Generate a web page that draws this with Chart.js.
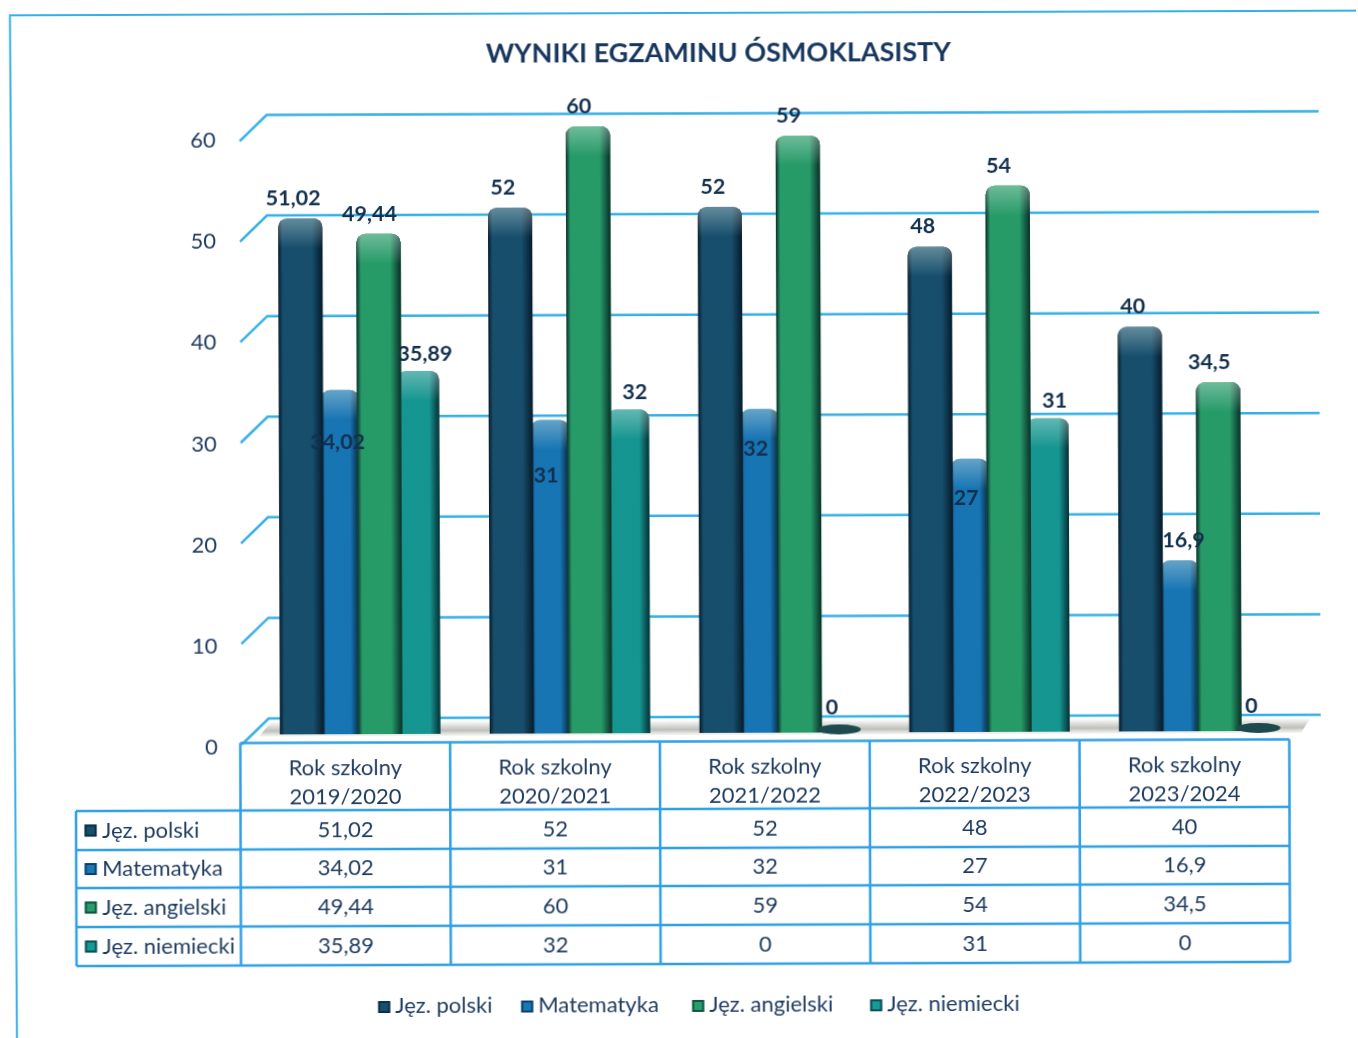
<!DOCTYPE html>
<html>
<head>
<meta charset="utf-8">
<title>Wyniki egzaminu ósmoklasisty</title>
<script src="https://cdn.jsdelivr.net/npm/chart.js@4"></script>
<style>
    html, body { margin: 0; background: #fff; overflow: hidden; }
    #chart { display: block; transform: rotate(-0.2deg); }
</style>
</head>
<body>
<canvas id="chart" width="1358" height="1038"></canvas>
<script>
const years = [['Rok szkolny', '2019/2020'], ['Rok szkolny', '2020/2021'], ['Rok szkolny', '2021/2022'], ['Rok szkolny', '2022/2023'], ['Rok szkolny', '2023/2024']]
const polski = [51.02, 52, 52, 48, 40]
const matematyka = [34.02, 31, 32, 27, 16.9]
const angielski = [49.44, 60, 59, 54, 34.5]
const niemiecki = [35.89, 32, 0, 31, 0]

const LINE = '#35b0e6'
const TEXT = '#1d3a5f'
const FONT = 'Lato'

// label nudges for each series, the blue one is placed by hand like in the original
const labelDx = [-7, -3, -9, 7]
const labelDy = [-20, -20, -20, -17]
const blueNudge = [[-2.5, 52], [-4, 56], [-4, 40], [-3.5, 39], [4, -20]]

function fmt(v) {
    return String(v).replace('.', ',')
}

function swatch(ctx, x, y, color) {
    ctx.fillStyle = color
    ctx.fillRect(x, y, 12, 12)
    ctx.strokeStyle = 'rgba(0,20,40,.55)'
    ctx.lineWidth = 2
    ctx.strokeRect(x + 1, y + 1, 10, 10)
}

function shadeBar(ctx, b) {
    if (b.base - b.y < 1) return
    let left = b.x - b.width / 2
    let side = ctx.createLinearGradient(left, 0, left + b.width, 0)
    side.addColorStop(0, 'rgba(0,10,20,.75)')
    side.addColorStop(0.1, 'rgba(0,10,20,.03)')
    side.addColorStop(0.76, 'rgba(0,10,20,.03)')
    side.addColorStop(1, 'rgba(0,10,20,.75)')
    let cap = ctx.createLinearGradient(0, b.y, 0, b.y + 30)
    cap.addColorStop(0, 'rgba(225,240,235,.38)')
    cap.addColorStop(1, 'rgba(225,240,235,0)')
    ctx.beginPath()
    ctx.roundRect(left, b.y, b.width, b.base - b.y, [9, 9, 0, 0])
    ctx.fillStyle = side
    ctx.fill()
    ctx.fillStyle = cap
    ctx.fill()
}

const chartExtras = {
    id: 'chartExtras',
    beforeDatasetsDraw(chart) {
        let ctx = chart.ctx
        let y = chart.scales.y
        let area = chart.chartArea
        ctx.save()

        // page frame
        ctx.strokeStyle = LINE
        ctx.lineWidth = 2
        ctx.beginPath()
        ctx.moveTo(1362, 13)
        ctx.lineTo(11.7, 13)
        ctx.lineTo(15.2, 1042)
        ctx.stroke()

        // back wall lines and the diagonals going to the front
        ctx.lineWidth = 2.5
        for (let v = 0; v <= 60; v += 10) {
            let back = y.getPixelForValue(v) - 16 + v * 0.058
            ctx.beginPath()
            ctx.moveTo(area.left - 14, back + 26)
            ctx.lineTo(area.left + 13, back)
            ctx.lineTo(area.right + 16, back)
            ctx.stroke()
        }

        // floor shadow
        let floor = ctx.createLinearGradient(0, area.bottom - 13, 0, area.bottom + 2)
        floor.addColorStop(0, 'rgba(110,110,100,0)')
        floor.addColorStop(0.65, 'rgba(110,110,100,.45)')
        floor.addColorStop(1, 'rgba(150,150,130,.1)')
        ctx.fillStyle = floor
        ctx.beginPath()
        ctx.moveTo(area.left + 3, area.bottom + 2)
        ctx.lineTo(area.left + 16, area.bottom - 13)
        ctx.lineTo(area.right + 6, area.bottom - 13)
        ctx.lineTo(area.right - 4, area.bottom + 2)
        ctx.closePath()
        ctx.fill()
        ctx.restore()
    },
    afterDatasetDraw(chart, args) {
        let ctx = chart.ctx
        args.meta.data.forEach(b => shadeBar(ctx, b))
    },
    afterDatasetsDraw(chart) {
        let ctx = chart.ctx
        // green bar sits in front of blue and teal
        chart.getDatasetMeta(2).data.forEach(b => {
            b.draw(ctx)
            shadeBar(ctx, b)
        })

        ctx.save()
        chart.data.datasets.forEach((ds, i) => {
            chart.getDatasetMeta(i).data.forEach((b, j) => {
                let v = ds.data[j]
                if (v === 0) {
                    ctx.fillStyle = '#1d4a4e'
                    ctx.beginPath()
                    ctx.ellipse(b.x, b.base - 3, 22, 5, 0, 0, Math.PI * 2)
                    ctx.fill()
                }
                let dx = labelDx[i], dy = labelDy[i]
                if (i == 1) {
                    dx = blueNudge[j][0]
                    dy = blueNudge[j][1]
                }
                if (v === 0) {
                    dx = -7
                    dy = -25
                }
                ctx.font = 'bold 21.5px ' + FONT
                ctx.fillStyle = '#13304f'
                ctx.textAlign = 'center'
                ctx.textBaseline = 'middle'
                ctx.fillText(fmt(v), b.x + dx, b.y + dy)
            })
        })
        ctx.restore()
    },
    afterDraw(chart) {
        let ctx = chart.ctx
        let area = chart.chartArea
        let ds = chart.data.datasets
        let step = area.width / years.length
        let left = area.left - 15.5
        let right = left + step * years.length
        let top = area.bottom + 8.5
        let rows = [809, 848, 886, 925, 964]
        let head = 75

        ctx.save()
        ctx.strokeStyle = '#2f9fe6'
        ctx.lineWidth = 2.5
        ctx.beginPath()
        ctx.moveTo(left, top)
        ctx.lineTo(right, top)
        rows.forEach(r => {
            ctx.moveTo(head, r)
            ctx.lineTo(right, r)
        })
        ctx.moveTo(head, rows[0])
        ctx.lineTo(head, rows[4])
        for (let i = 0; i <= years.length; i++) {
            ctx.moveTo(left + step * i, top)
            ctx.lineTo(left + step * i, rows[4])
        }
        ctx.stroke()

        ctx.font = '22px ' + FONT
        ctx.textBaseline = 'middle'
        ds.forEach((d, i) => {
            let cy = (rows[i] + rows[i + 1]) / 2
            swatch(ctx, 83.5, cy - 6, d.backgroundColor)
            ctx.fillStyle = TEXT
            ctx.textAlign = 'left'
            ctx.fillText(d.label, 101, cy)
            ctx.textAlign = 'center'
            d.data.forEach((v, j) => {
                ctx.fillText(fmt(v), left + step * (j + 0.5), cy)
            })
        })

        // legend
        let itemX = [376.5, 519.5, 690.5, 868.5]
        ds.forEach((d, i) => {
            swatch(ctx, itemX[i], 1000, d.backgroundColor)
            ctx.fillStyle = TEXT
            ctx.textAlign = 'left'
            ctx.fillText(d.label, itemX[i] + 17, 1005)
        })
        ctx.restore()
    }
}

new Chart(document.getElementById('chart'), {
    type: 'bar',
    plugins: [chartExtras],
    data: {
        labels: years,
        datasets: [
            { label: 'Jęz. polski', data: polski, backgroundColor: '#17506f', barPercentage: 1.13 },
            { label: 'Matematyka', data: matematyka, backgroundColor: '#1878b8', barPercentage: 0.97 },
            { label: 'Jęz. angielski', data: angielski, backgroundColor: '#279f6a', barPercentage: 1.13 },
            { label: 'Jęz. niemiecki', data: niemiecki, backgroundColor: '#169a94', barPercentage: 1.08 }
        ]
    },
    options: {
        responsive: false,
        animation: false,
        devicePixelRatio: 1,
        categoryPercentage: 0.745,
        borderRadius: { topLeft: 9, topRight: 9 },
        layout: { padding: { top: 38, left: 136, right: 54, bottom: 0 } },
        plugins: {
            legend: { display: false },
            tooltip: { enabled: false },
            title: {
                display: true,
                text: 'WYNIKI EGZAMINU ÓSMOKLASISTY',
                color: '#17375e',
                font: { family: FONT, size: 27, weight: 'bold', lineHeight: 1.15 },
                padding: { top: 0, bottom: 57 }
            }
        },
        scales: {
            x: {
                grid: { display: false, drawTicks: false },
                border: { display: false },
                afterFit(scale) { scale.height = 305 },
                ticks: {
                    color: TEXT,
                    font: { family: FONT, size: 22, lineHeight: 1.32 },
                    padding: 19,
                    labelOffset: -15.5,
                    maxRotation: 0,
                    autoSkip: false
                }
            },
            y: {
                min: 0,
                max: 60,
                grid: { display: false, drawTicks: false },
                border: { display: false },
                afterFit(scale) { scale.width = 119 },
                ticks: {
                    stepSize: 10,
                    color: TEXT,
                    font: { family: FONT, size: 22 },
                    padding: 38,
                    labelOffset: 13
                }
            }
        }
    }
})
</script>
</body>
</html>
